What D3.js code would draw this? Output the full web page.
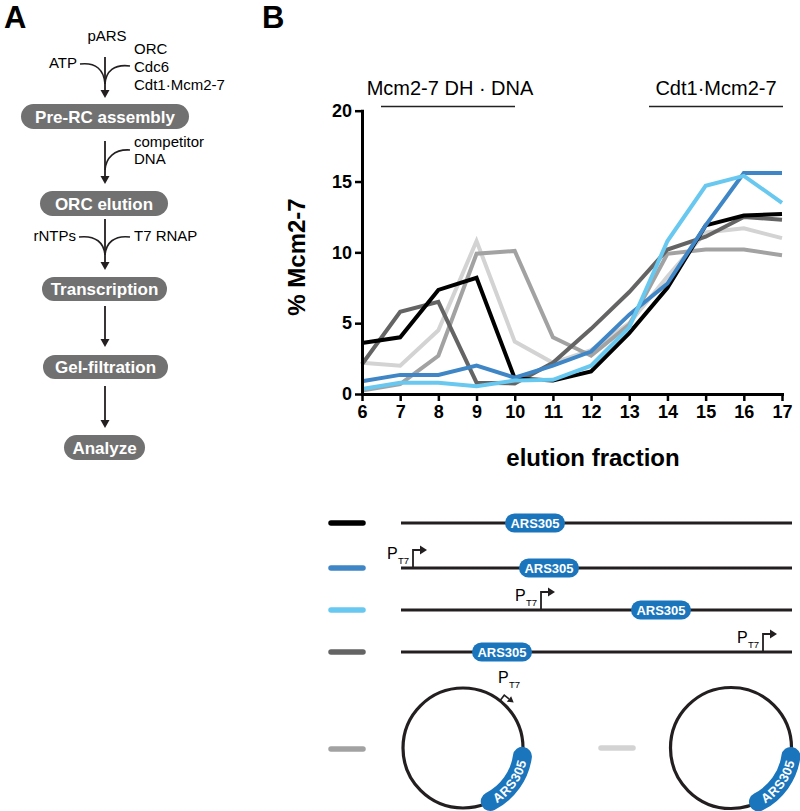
<!DOCTYPE html>
<html><head><meta charset="utf-8">
<script src="https://cdn.jsdelivr.net/npm/d3@7"></script>
<style>
body{margin:0;background:#fff}
svg{display:block}
text{font-family:"Liberation Sans",Arial,Helvetica,sans-serif}
</style>
</head><body>
<svg id="c" width="800" height="811"></svg>
<script>
// ---------------- DATA ----------------
const fractions = [6,7,8,9,10,11,12,13,14,15,16,17];
const yTicks = [0,5,10,15,20];
const xLabel = "elution fraction";
const yLabel = "% Mcm2-7";
const peakLabels = ["Mcm2-7 DH \u00b7 DNA", "Cdt1\u00b7Mcm2-7"];
const peakRanges = [[6.5, 10.3], [13.5, 17]];

// series (percent Mcm2-7 per elution fraction)
const circularARS      = [2.2, 2.0, 4.5, 10.8, 3.7, 2.2, 3.1, 5.0, 8.3, 11.4, 11.7, 11.0];
const circularPT7ARS   = [0.25, 0.7, 2.7, 9.9, 10.1, 4.0, 2.7, 4.9, 9.9, 10.2, 10.2, 9.8];
const linearARSThenPT7 = [2.1, 5.8, 6.5, 0.8, 0.75, 2.2, 4.6, 7.2, 10.2, 11.1, 12.5, 12.3];
const linearARS        = [3.6, 4.0, 7.35, 8.2, 1.1, 0.95, 1.6, 4.3, 7.5, 11.9, 12.6, 12.7];
const linearPT7ThenARS = [0.9, 1.35, 1.35, 2.0, 1.15, 2.0, 3.0, 5.6, 7.8, 11.9, 15.6, 15.6];
const linearPT7FarARS  = [0.35, 0.8, 0.8, 0.55, 0.95, 1.0, 2.0, 4.7, 10.8, 14.7, 15.4, 13.5];

const seriesList = [
  {name:"circular ARS305", values:circularARS, color:"#d3d3d3"},
  {name:"circular PT7 ARS305", values:circularPT7ARS, color:"#a2a2a2"},
  {name:"linear ARS305 ... PT7", values:linearARSThenPT7, color:"#646464"},
  {name:"linear ARS305", values:linearARS, color:"#000000"},
  {name:"linear PT7 ARS305", values:linearPT7ThenARS, color:"#3f86c6"},
  {name:"linear PT7 ... ARS305", values:linearPT7FarARS, color:"#68c8ef"}
];

// flowchart steps (panel A)
const steps = ["Pre-RC assembly","ORC elution","Transcription","Gel-filtration","Analyze"];

// ---------------- DRAW ----------------
const svg = d3.select("#c");
const FONT = '"Liberation Sans",Arial,sans-serif';
const DNA = "#231f20", ARSBLUE = "#1b75bc", BOXGRAY = "#717171";

// arrow marker-ish helper
function arrowDown(g, x, y0, y1){
  g.append("line").attr("x1",x).attr("x2",x).attr("y1",y0).attr("y2",y1-6)
    .attr("stroke",DNA).attr("stroke-width",1.8);
  g.append("path").attr("d",`M${x-4.5},${y1-8} L${x+4.5},${y1-8} L${x},${y1} Z`).attr("fill",DNA);
}

// ---- Panel labels
svg.append("text").attr("x",4).attr("y",28).attr("font-size",31).attr("font-weight","bold").text("A");
svg.append("text").attr("x",262).attr("y",28).attr("font-size",31).attr("font-weight","bold").text("B");

// ---- Panel A
const A = svg.append("g");
const ax = 105;
function label(t,x,y,anchor){A.append("text").attr("x",x).attr("y",y).attr("font-size",15)
  .attr("text-anchor",anchor||"start").attr("dy","0.35em").text(t);}
label("pARS",107,36,"middle");
label("ATP",77,63,"end");
label("ORC",134,49);label("Cdc6",134,67);label("Cdt1\u00b7Mcm2-7",134,85);
arrowDown(A,ax,57,98);
A.append("path").attr("d",`M80,64 C96,62 104,70 105,84`).attr("fill","none").attr("stroke",DNA).attr("stroke-width",1.6);
A.append("path").attr("d",`M130,66 C114,64 106,71 105,84`).attr("fill","none").attr("stroke",DNA).attr("stroke-width",1.6);

label("competitor",134,142);label("DNA",134,159);
arrowDown(A,ax,141,184);
A.append("path").attr("d",`M130,150 C114,149 106,158 105,170`).attr("fill","none").attr("stroke",DNA).attr("stroke-width",1.6);

label("rNTPs",76,236,"end");label("T7 RNAP",134,236);
arrowDown(A,ax,219,270);
A.append("path").attr("d",`M79,237 C96,235 104,243 105,255`).attr("fill","none").attr("stroke",DNA).attr("stroke-width",1.6);
A.append("path").attr("d",`M130,237 C114,235 106,243 105,255`).attr("fill","none").attr("stroke",DNA).attr("stroke-width",1.6);
arrowDown(A,ax,306,347);
arrowDown(A,ax,386,428);

const boxes = [[21,189,104,129],[40,168,191,216],[42,167,277,301],[43,168,355,379],[64,145,435,460]];
steps.forEach((s,i)=>{
  const b = boxes[i];
  A.append("rect").attr("x",b[0]).attr("y",b[2]).attr("width",b[1]-b[0]).attr("height",b[3]-b[2])
    .attr("rx",(b[3]-b[2])/2).attr("fill",BOXGRAY);
  A.append("text").attr("x",(b[0]+b[1])/2).attr("y",(b[2]+b[3])/2).attr("dy","0.36em")
    .attr("text-anchor","middle").attr("font-size",17).attr("font-weight","bold").attr("fill","#fff").text(s);
});

// ---- Panel B chart
const x = d3.scaleLinear().domain([6,17]).range([362,782]);
const y = d3.scaleLinear().domain([0,20]).range([394,110.7]);
const B = svg.append("g");

const line = d3.line().x((d,i)=>x(fractions[i])).y(d=>y(d));
seriesList.forEach(s=>{
  B.append("path").attr("d",line(s.values)).attr("fill","none").attr("stroke",s.color)
   .attr("stroke-width",4).attr("stroke-linejoin","miter");
});

const yAxis = B.append("g").attr("transform",`translate(${x(6)},0)`)
  .call(d3.axisLeft(y).tickValues(yTicks).tickSize(7).tickSizeOuter(0).tickPadding(3));
const xAxis = B.append("g").attr("transform",`translate(0,${y(0)})`)
  .call(d3.axisBottom(x).tickValues(fractions).tickFormat(d3.format("d")).tickSize(7).tickSizeOuter(0).tickPadding(4));
[yAxis,xAxis].forEach(g=>{
  g.select(".domain").attr("stroke","#000").attr("stroke-width",3).attr("stroke-linecap","square");
  g.selectAll(".tick line").attr("stroke","#000").attr("stroke-width",2.5);
  g.selectAll(".tick text").attr("font-family",FONT).attr("font-size",18).attr("font-weight","bold").attr("fill","#000");
});

B.append("text").attr("transform",`translate(297,257) rotate(-90)`).attr("text-anchor","middle")
  .attr("dy","0.35em").attr("font-size",24).attr("font-weight","bold").text(yLabel);
B.append("text").attr("x",593).attr("y",458).attr("text-anchor","middle").attr("dy","0.35em")
  .attr("font-size",24).attr("font-weight","bold").text(xLabel);

// peak brackets
const bracketX = [[381,515],[649,783]];
peakLabels.forEach((t,i)=>{
  const bx = bracketX[i];
  B.append("line").attr("x1",bx[0]).attr("x2",bx[1]).attr("y1",106.5).attr("y2",106.5)
   .attr("stroke","#222").attr("stroke-width",1.6);
  B.append("text").attr("x",i===0?450:716).attr("y",88).attr("dy","0.35em").attr("text-anchor","middle")
   .attr("font-size",20).text(t);
});

// ---- DNA constructs legend
const L = svg.append("g");
function swatch(x0,yy,color){
  L.append("line").attr("x1",x0).attr("x2",x0+32).attr("y1",yy).attr("y2",yy)
   .attr("stroke",color).attr("stroke-width",5.5).attr("stroke-linecap","round");
}
function ars(cx,cy){
  L.append("rect").attr("x",cx-30).attr("y",cy-9.5).attr("width",60).attr("height",19).attr("rx",9.5).attr("fill",ARSBLUE);
  L.append("text").attr("x",cx).attr("y",cy).attr("dy","0.36em").attr("text-anchor","middle")
   .attr("font-size",13).attr("font-weight","bold").attr("fill","#fff").text("ARS305");
}
function promoter(px,yy){
  L.append("path").attr("d",`M${px},${yy} V${yy-18} H${px+8}`).attr("fill","none").attr("stroke",DNA).attr("stroke-width",1.8);
  L.append("path").attr("d",`M${px+7},${yy-22.5} L${px+14},${yy-18} L${px+7},${yy-13.5} Z`).attr("fill",DNA);
  L.append("text").attr("x",px-26).attr("y",yy-9).attr("font-size",16).text("P");
  L.append("text").attr("x",px-15).attr("y",yy-4).attr("font-size",9.5).text("T7");
}
const rowsY = [523,568,610,652];
const rowColors = [linearARS, linearPT7ThenARS, linearPT7FarARS, linearARSThenPT7]
  .map(v=>seriesList.find(s=>s.values===v).color);
const arsX = [535,549,661,502];
const ptX = [null,413,541,763];
rowsY.forEach((yy,i)=>{
  swatch(331,yy,rowColors[i]);
  L.append("line").attr("x1",401).attr("x2",792).attr("y1",yy).attr("y2",yy).attr("stroke",DNA).attr("stroke-width",3.2);
  if(ptX[i]!==null) promoter(ptX[i],yy);
  ars(arsX[i],yy);
});

// circular plasmids
function plasmid(cx,cy,r,id,withPromoter){
  L.append("circle").attr("cx",cx).attr("cy",cy).attr("r",r).attr("fill","none").attr("stroke",DNA).attr("stroke-width",3.2);
  const a0 = 63*Math.PI/180, a1 = 8*Math.PI/180;
  const d = `M${cx+r*Math.cos(a0)},${cy+r*Math.sin(a0)} A${r},${r} 0 0 0 ${cx+r*Math.cos(a1)},${cy+r*Math.sin(a1)}`;
  L.append("path").attr("id",id).attr("d",d).attr("fill","none").attr("stroke",ARSBLUE)
   .attr("stroke-width",19).attr("stroke-linecap","round");
  L.append("text").attr("font-size",13).attr("font-weight","bold").attr("fill","#fff").attr("dy","0.36em")
   .append("textPath").attr("href","#"+id).attr("startOffset","50%").attr("text-anchor","middle").text("ARS305");
  if(withPromoter){
    const t = -52*Math.PI/180;
    const px = cx+r*Math.cos(t), py = cy+r*Math.sin(t);
    const ox = px+7*Math.cos(t), oy = py+7*Math.sin(t);
    const tx = -Math.sin(t), ty = Math.cos(t);
    const ex = ox+6*tx, ey = oy+6*ty;
    L.append("path").attr("d",`M${px},${py} L${ox},${oy} L${ex},${ey}`).attr("fill","none").attr("stroke",DNA).attr("stroke-width",1.6);
    const nx = Math.cos(t), ny = Math.sin(t);
    L.append("path").attr("d",`M${ex+3.5*nx},${ey+3.5*ny} L${ex+6*tx},${ey+6*ty} L${ex-3.5*nx},${ey-3.5*ny} Z`).attr("fill",DNA);
    L.append("text").attr("x",498).attr("y",683).attr("font-size",16).text("P");
    L.append("text").attr("x",509).attr("y",688).attr("font-size",9.5).text("T7");
  }
}
swatch(331,749,circularPT7ARS===seriesList[1].values?seriesList[1].color:"#a2a2a2");
swatch(601,748,seriesList[0].color);
plasmid(463,748,60,"arcA",true);
plasmid(731,748,60.5,"arcB",false);
</script>
</body></html>
